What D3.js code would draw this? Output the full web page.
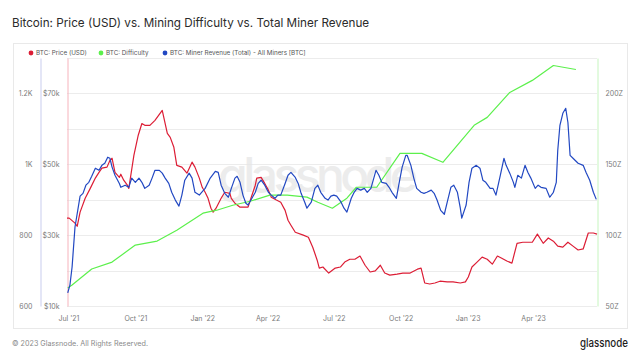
<!DOCTYPE html>
<html>
<head>
<meta charset="utf-8">
<script src="https://cdn.jsdelivr.net/npm/d3@7"></script>
<style>
  body { margin: 0; background: #fff; }
  svg { display: block; font-family: Inter, "Open Sans", sans-serif; }
  .axis text { fill: #7a7a7a; font-size: 7px; font-family: Inter, sans-serif; }
  .grid line { stroke: #ececec; }
</style>
</head>
<body>
<div id="chart"></div>
<script>
// BTC price (USD)
var priceData = [
  ["2021-06-29", 34800], ["2021-07-02", 34800], ["2021-07-10", 33400], ["2021-07-13", 32500],
  ["2021-07-17", 36500], ["2021-07-24", 40400], ["2021-07-31", 43200], ["2021-08-07", 46100],
  ["2021-08-12", 47700], ["2021-08-16", 48900], ["2021-08-23", 49200], ["2021-08-27", 51100],
  ["2021-08-30", 51700], ["2021-09-03", 47700], ["2021-09-09", 46300], ["2021-09-11", 47200],
  ["2021-09-15", 45500], ["2021-09-20", 44100], ["2021-09-22", 43200], ["2021-09-29", 52500],
  ["2021-10-05", 58200], ["2021-10-10", 61500], ["2021-10-14", 61000], ["2021-10-21", 61000],
  ["2021-10-28", 62400], ["2021-11-07", 65200], ["2021-11-14", 58700], ["2021-11-18", 57600],
  ["2021-11-23", 54800], ["2021-11-27", 49700], ["2021-12-04", 49200], ["2021-12-11", 47500],
  ["2021-12-18", 50600], ["2021-12-22", 49200], ["2021-12-28", 46100], ["2022-01-01", 43500],
  ["2022-01-05", 42100], ["2022-01-09", 40400], ["2022-01-13", 37600], ["2022-01-16", 36500],
  ["2022-01-20", 37600], ["2022-01-27", 40400], ["2022-02-01", 42100], ["2022-02-08", 41800],
  ["2022-02-10", 40400], ["2022-02-15", 39000], ["2022-02-22", 37900], ["2022-03-05", 37900],
  ["2022-03-09", 40400], ["2022-03-15", 44100], ["2022-03-17", 46100], ["2022-03-23", 46300],
  ["2022-03-28", 44600], ["2022-04-02", 42700], ["2022-04-06", 40700], ["2022-04-13", 39900],
  ["2022-04-19", 39300], ["2022-04-25", 37000], ["2022-04-29", 34200], ["2022-05-03", 32800],
  ["2022-05-09", 30800], ["2022-05-20", 30000], ["2022-05-27", 29400], ["2022-06-02", 26600],
  ["2022-06-08", 23000], ["2022-06-11", 20700], ["2022-06-16", 21000], ["2022-06-24", 19300],
  ["2022-07-03", 20700], ["2022-07-10", 21000], ["2022-07-16", 22400], ["2022-07-23", 23200],
  ["2022-07-30", 23200], ["2022-08-06", 24100], ["2022-08-13", 21500], ["2022-08-20", 19600],
  ["2022-08-27", 19900], ["2022-09-03", 21500], ["2022-09-09", 19300], ["2022-09-16", 18700],
  ["2022-09-26", 19000], ["2022-10-04", 19300], ["2022-10-14", 19300], ["2022-10-24", 20400],
  ["2022-10-29", 20700], ["2022-11-03", 16500], ["2022-11-10", 16200], ["2022-11-17", 16500],
  ["2022-11-24", 17000], ["2022-12-04", 16800], ["2022-12-12", 16800], ["2022-12-22", 16500],
  ["2022-12-29", 16800], ["2023-01-02", 18200], ["2023-01-07", 21000], ["2023-01-14", 22400],
  ["2023-01-21", 23800], ["2023-01-28", 23200], ["2023-02-04", 21800], ["2023-02-11", 24100],
  ["2023-02-17", 23500], ["2023-02-24", 22700], ["2023-03-03", 22100], ["2023-03-10", 27700],
  ["2023-03-18", 28000], ["2023-03-31", 28000], ["2023-04-07", 30300], ["2023-04-15", 27700],
  ["2023-04-22", 29200], ["2023-04-29", 28300], ["2023-05-05", 26900], ["2023-05-12", 26600],
  ["2023-05-19", 28000], ["2023-05-26", 26900], ["2023-06-02", 25800], ["2023-06-09", 26100],
  ["2023-06-16", 30600], ["2023-06-23", 30600], ["2023-06-28", 30300]
];

// BTC difficulty (Z)
var difficultyData = [
  ["2021-06-30", 62.7], ["2021-07-06", 64.8], ["2021-08-02", 76.1], ["2021-08-30", 81.0],
  ["2021-10-01", 93.0], ["2021-10-31", 95.8], ["2021-11-27", 103.5], ["2022-01-02", 115.5],
  ["2022-01-21", 117.6], ["2022-02-12", 121.1], ["2022-03-08", 123.9], ["2022-04-04", 128.2],
  ["2022-04-28", 128.2], ["2022-05-25", 126.8], ["2022-06-09", 123.2], ["2022-06-29", 119.0],
  ["2022-07-19", 126.1], ["2022-08-01", 133.8], ["2022-08-29", 133.8], ["2022-09-30", 157.7],
  ["2022-10-30", 157.7], ["2022-11-28", 151.4], ["2023-01-10", 177.5], ["2023-01-28", 183.1],
  ["2023-02-28", 200.7], ["2023-03-31", 209.2], ["2023-04-29", 219.7], ["2023-05-30", 216.9]
];

// BTC miner revenue, all miners (BTC)
var revenueData = [
  ["2021-06-30", 637], ["2021-07-03", 659], ["2021-07-06", 710], ["2021-07-10", 823],
  ["2021-07-17", 910], ["2021-07-21", 918], ["2021-07-25", 941], ["2021-07-29", 949],
  ["2021-08-02", 966], ["2021-08-07", 989], ["2021-08-12", 983], ["2021-08-16", 997],
  ["2021-08-20", 1003], ["2021-08-24", 1020], ["2021-08-27", 1017], ["2021-08-30", 992],
  ["2021-09-03", 969], ["2021-09-09", 946], ["2021-09-11", 935], ["2021-09-17", 941],
  ["2021-09-22", 935], ["2021-09-26", 961], ["2021-10-01", 949], ["2021-10-06", 961],
  ["2021-10-10", 949], ["2021-10-14", 932], ["2021-10-20", 941], ["2021-10-24", 961],
  ["2021-10-28", 983], ["2021-11-03", 983], ["2021-11-07", 975], ["2021-11-11", 961],
  ["2021-11-16", 946], ["2021-11-20", 921], ["2021-11-25", 899], ["2021-11-30", 882],
  ["2021-12-04", 913], ["2021-12-08", 955], ["2021-12-14", 975], ["2021-12-18", 961],
  ["2021-12-22", 921], ["2021-12-28", 913], ["2021-12-30", 918], ["2022-01-05", 932],
  ["2022-01-12", 961], ["2022-01-19", 980], ["2022-01-23", 977], ["2022-01-27", 941],
  ["2022-02-01", 918], ["2022-02-06", 907], ["2022-02-10", 932], ["2022-02-15", 961],
  ["2022-02-18", 966], ["2022-02-22", 949], ["2022-02-26", 913], ["2022-03-02", 890],
  ["2022-03-05", 885], ["2022-03-09", 899], ["2022-03-15", 921], ["2022-03-19", 946],
  ["2022-03-23", 955], ["2022-03-28", 941], ["2022-04-02", 921], ["2022-04-06", 913],
  ["2022-04-11", 904], ["2022-04-15", 913], ["2022-04-19", 913], ["2022-04-25", 946],
  ["2022-04-29", 969], ["2022-05-03", 977], ["2022-05-09", 963], ["2022-05-13", 946],
  ["2022-05-17", 918], ["2022-05-22", 893], ["2022-05-25", 876], ["2022-05-31", 893],
  ["2022-06-05", 932], ["2022-06-09", 941], ["2022-06-13", 921], ["2022-06-19", 904],
  ["2022-06-23", 899], ["2022-06-27", 910], ["2022-07-01", 913], ["2022-07-05", 910],
  ["2022-07-11", 893], ["2022-07-15", 876], ["2022-07-19", 865], ["2022-07-25", 904],
  ["2022-07-29", 921], ["2022-08-02", 932], ["2022-08-07", 927], ["2022-08-12", 932],
  ["2022-08-16", 921], ["2022-08-21", 932], ["2022-08-25", 961], ["2022-08-28", 983],
  ["2022-09-01", 969], ["2022-09-05", 949], ["2022-09-11", 946], ["2022-09-15", 935],
  ["2022-09-19", 921], ["2022-09-25", 904], ["2022-09-29", 949], ["2022-10-03", 992],
  ["2022-10-08", 1025], ["2022-10-10", 1025], ["2022-10-15", 997], ["2022-10-19", 961],
  ["2022-10-23", 932], ["2022-10-29", 921], ["2022-11-02", 918], ["2022-11-06", 921],
  ["2022-11-12", 927], ["2022-11-16", 918], ["2022-11-20", 899], ["2022-11-25", 870],
  ["2022-11-30", 859], ["2022-12-04", 893], ["2022-12-09", 935], ["2022-12-13", 941],
  ["2022-12-18", 921], ["2022-12-22", 876], ["2022-12-24", 848], ["2022-12-30", 885],
  ["2023-01-03", 949], ["2023-01-07", 989], ["2023-01-13", 997], ["2023-01-18", 989],
  ["2023-01-22", 955], ["2023-01-26", 949], ["2023-02-01", 932], ["2023-02-05", 932],
  ["2023-02-09", 913], ["2023-02-15", 969], ["2023-02-20", 1017], ["2023-02-23", 997],
  ["2023-02-28", 975], ["2023-03-05", 949], ["2023-03-07", 935], ["2023-03-11", 969],
  ["2023-03-16", 961], ["2023-03-21", 997], ["2023-03-25", 977], ["2023-03-29", 961],
  ["2023-04-04", 932], ["2023-04-08", 941], ["2023-04-12", 935], ["2023-04-19", 932],
  ["2023-04-24", 907], ["2023-04-29", 921], ["2023-05-03", 949], ["2023-05-05", 1039],
  ["2023-05-08", 1110], ["2023-05-12", 1144], ["2023-05-16", 1158], ["2023-05-19", 1118],
  ["2023-05-22", 1025], ["2023-05-26", 1017], ["2023-06-02", 1003], ["2023-06-09", 997],
  ["2023-06-13", 977], ["2023-06-18", 955], ["2023-06-23", 921], ["2023-06-27", 901]
];

// tick labels
var dateTicks = ["2021-07-01", "2021-10-01", "2022-01-01", "2022-04-01",
                 "2022-07-01", "2022-10-01", "2023-01-01", "2023-04-01"];
var priceTicks = [10000, 30000, 50000, 70000];
var priceGrid = [10000, 20000, 30000, 40000, 50000, 60000, 70000, 80000];
var revenueTicks = [600, 800, 1000, 1200];
var revenueLabels = ["600", "800", "1K", "1.2K"];
var difficultyTicks = [50, 100, 150, 200];

var series = [
  { name: "BTC: Price (USD)", color: "#dc1d35" },
  { name: "BTC: Difficulty", color: "#5cf04c" },
  { name: "BTC: Miner Revenue (Total) - All Miners [BTC]", color: "#2248c2" }
];

function init() {
    var w = 641, h = 361;
    var left = 67, right = 597, top = 58, bottom = 306;
    var parse = d3.timeParse("%Y-%m-%d");

    var svg = d3.select("#chart").append("svg")
        .attr("width", w)
        .attr("height", h);

    svg.append("rect").attr("width", w).attr("height", h).attr("fill", "#fff");

    // title
    svg.append("text")
        .attr("x", 12).attr("y", 27)
        .attr("fill", "#2b2b2b")
        .style("font-size", "11.7px")
        .text("Bitcoin: Price (USD) vs. Mining Difficulty vs. Total Miner Revenue");

    // frame
    svg.append("rect")
        .attr("x", 13.5).attr("y", 43.5)
        .attr("width", 614).attr("height", 285)
        .attr("fill", "none")
        .attr("stroke", "#e9e9e9");

    // scales
    var xScale = d3.scaleTime()
        .domain([parse("2021-06-29"), parse("2023-06-28")])
        .range([left, right]);
    var priceScale = d3.scaleLinear().domain([10000, 80000]).range([bottom, top]);
    var revScale = d3.scaleLinear().domain([600, 1300]).range([bottom, top]);
    var diffScale = d3.scaleLinear().domain([50, 225]).range([bottom, top]);

    // grid
    svg.append("g").attr("class", "grid")
        .selectAll("line").data(priceGrid).enter().append("line")
        .attr("x1", left).attr("x2", right)
        .attr("y1", function(d) { return Math.round(priceScale(d)) + 0.5; })
        .attr("y2", function(d) { return Math.round(priceScale(d)) + 0.5; });

    // watermark
    svg.append("text")
        .attr("x", 218).attr("y", 192)
        .attr("fill", "#e6e6e6")
        .attr("opacity", 0.75)
        .attr("textLength", 200)
        .style("font-size", "48px")
        .style("font-weight", 500)
        .text("glassnode");

    // axes
    var revAxis = d3.axisLeft(revScale).tickValues(revenueTicks)
        .tickFormat(function(d, i) { return revenueLabels[i]; })
        .tickSize(0).tickPadding(8);
    var gRev = svg.append("g").attr("class", "axis")
        .attr("transform", "translate(40.5,0)").call(revAxis);
    gRev.select(".domain").attr("stroke", "#c9cdee");

    var priceAxis = d3.axisLeft(priceScale).tickValues(priceTicks)
        .tickFormat(function(d) { return "$" + (d / 1000) + "k"; })
        .tickSize(0).tickPadding(8);
    var gPrice = svg.append("g").attr("class", "axis")
        .attr("transform", "translate(" + (left + 0.5) + ",0)").call(priceAxis);
    gPrice.select(".domain").attr("stroke", "#f6b3bc");

    var diffAxis = d3.axisRight(diffScale).tickValues(difficultyTicks)
        .tickFormat(function(d) { return d + "Z"; })
        .tickSize(0).tickPadding(8);
    var gDiff = svg.append("g").attr("class", "axis")
        .attr("transform", "translate(" + (right + 0.5) + ",0)").call(diffAxis);
    gDiff.select(".domain").attr("stroke", "#c6f5bf");

    var xAxis = d3.axisBottom(xScale).tickValues(dateTicks.map(parse))
        .tickFormat(d3.timeFormat("%b '%y"))
        .tickSize(0).tickPadding(10);
    var gX = svg.append("g").attr("class", "axis")
        .attr("transform", "translate(0," + bottom + ")").call(xAxis);
    gX.select(".domain").remove();

    // lines
    function drawLine(data, yScale, color) {
        var line = d3.line()
            .x(function(d) { return xScale(parse(d[0])); })
            .y(function(d) { return yScale(d[1]); });
        svg.append("path")
            .datum(data)
            .attr("fill", "none")
            .attr("stroke", color)
            .attr("stroke-width", 1.2)
            .attr("stroke-linejoin", "round")
            .attr("d", line);
    }
    drawLine(priceData, priceScale, series[0].color);
    drawLine(difficultyData, diffScale, series[1].color);
    drawLine(revenueData, revScale, series[2].color);

    // legend
    var legendX = [31, 101, 165];
    var lg = svg.append("g").selectAll("g").data(series).enter().append("g")
        .attr("transform", function(d, i) { return "translate(" + legendX[i] + ",53)"; });
    lg.append("circle").attr("r", 2.4).attr("fill", function(d) { return d.color; });
    lg.append("text")
        .attr("x", 5).attr("dy", "0.35em")
        .attr("fill", "#555")
        .style("font-size", "6.3px")
        .text(function(d) { return d.name; });

    // footer
    svg.append("text")
        .attr("x", 12).attr("y", 346)
        .attr("fill", "#8a8a8a")
        .style("font-size", "7.2px")
        .text("\u00a9 2023 Glassnode. All Rights Reserved.");

    svg.append("text")
        .attr("x", 628).attr("y", 347)
        .attr("text-anchor", "end")
        .attr("fill", "#1c1c1c")
        .attr("textLength", 48)
        .attr("lengthAdjust", "spacingAndGlyphs")
        .style("font-size", "12px")
        .style("font-weight", 500)
        .text("glassnode");
}

init();
</script>
</body>
</html>
